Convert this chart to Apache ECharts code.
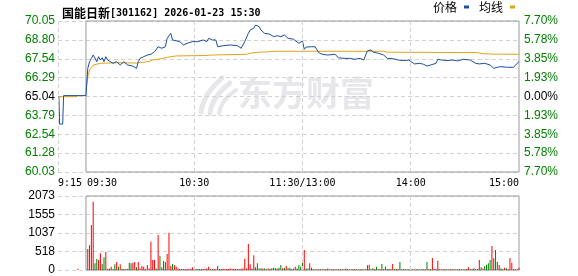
<!DOCTYPE html>
<html><head><meta charset="utf-8">
<script src="https://cdn.jsdelivr.net/npm/echarts@6/dist/echarts.min.js"></script>
<style>html,body{margin:0;padding:0;background:#fff}#c{width:578px;height:276px}</style>
</head><body><div id="c"></div>
<script>
// ---- data ----
const stockTitle = '国能日新';
const stockInfo = '[301162] 2026-01-23 15:30';
const prevClose = 65.04;
const leftTicks = ['60.03','61.28','62.54','63.79','65.04','66.29','67.54','68.80','70.05'];
const rightTicks = ['7.70%','5.78%','3.85%','1.93%','0.00%','1.93%','3.85%','5.78%','7.70%'];
const volTicks = ['0','518','1037','1555','2073'];
const timeTicks = ['9:15','09:30','10:30','11:30/13:00','14:00','15:00'];
const timeTickMin = [-15.5, 0, 60, 120, 180, 240];

// minutes relative to 09:30 (pre-market negative), price
const prePrice = [[-15,65.04],[-14.6,63.21],[-12.9,63.21],[-12.4,65.10]];
const prePriceAvg = [[-15,65.03],[-4.6,65.03]];
const pricePoints = [[0,65.10],[1,66.90],[2,67.35],[3,67.57],[4,67.79],[5,67.59],[6,67.35],[7,67.68],[8,67.46],[9,67.61],[10,67.35],[11,67.68],[12,67.46],[13,67.35],[15,67.24],[17,67.35],[19,67.13],[21,67.35],[23,67.13],[26,67.06],[28,66.91],[29,67.35],[30,67.57],[32,67.68],[34,67.79],[36,67.84],[37,67.91],[38,68.01],[40,68.34],[42,68.24],[44,68.34],[45,68.90],[47,69.23],[48,68.79],[49,68.90],[52,68.68],[54,68.46],[56,68.57],[59,68.68],[60,68.57],[62,68.68],[65,68.79],[67,68.68],[68,68.90],[70,68.79],[72,68.79],[73,68.34],[76,68.41],[80,68.46],[84,68.41],[86,68.24],[88,68.68],[90,69.23],[91,69.45],[93,69.57],[94,69.78],[96,69.67],[97,69.45],[99,69.23],[100,69.12],[102,69.17],[104,69.01],[106,69.07],[108,69.01],[110,69.12],[112,68.90],[115,68.84],[118,68.57],[120,68.72],[121,68.17],[122,68.32],[125,68.34],[127,68.34],[129,67.95],[131,67.84],[134,67.79],[138,67.84],[140,67.61],[143,67.57],[146,67.57],[149,67.51],[152,67.57],[154,67.46],[155,67.79],[156,68.06],[158,68.13],[159,67.99],[162,67.91],[165,67.79],[167,67.57],[168,67.51],[171,67.53],[173,67.46],[176,67.42],[179,67.46],[180,67.35],[182,67.20],[185,67.24],[187,67.18],[189,67.06],[191,67.13],[192,67.18],[194,67.24],[195,67.51],[197,67.46],[200,67.42],[203,67.46],[206,67.40],[209,67.51],[213,67.46],[216,67.24],[218,67.20],[221,67.24],[224,67.13],[226,66.91],[228,66.98],[230,67.02],[233,66.98],[237,66.98],[239,67.24],[240,67.35]];
const avgPoints = [[0,65.50],[1,66.35],[2,66.80],[4,67.13],[8,67.24],[17,67.28],[28,67.26],[30,67.30],[35,67.36],[37,67.46],[41,67.53],[45,67.64],[50,67.73],[67,67.76],[69,67.79],[89,67.84],[91,67.91],[95,67.97],[106,68.04],[165,68.04],[167,67.98],[217,67.95],[220,67.88],[226,67.85],[240,67.84]];

// volume per minute 0..240 (09:30..15:00), direction: r = up, g = down
const volumes = [0,588,700,1260,1913,187,308,280,467,168,355,504,30,40,93,30,159,224,93,159,
30,30,20,30,205,187,205,224,75,224,40,112,93,30,140,40,793,280,280,40,
980,392,75,252,224,448,1045,112,168,140,93,40,30,30,30,30,30,30,30,75,
30,30,30,30,30,30,30,40,93,30,30,30,30,112,30,30,30,30,30,30,
40,30,30,30,30,30,40,40,317,40,728,159,40,411,75,187,40,50,40,40,
30,40,30,50,60,50,40,60,140,50,60,112,50,60,30,40,93,40,140,93,
224,560,40,40,187,60,20,20,20,20,20,20,20,20,40,20,20,20,20,20,
20,20,20,20,40,20,20,20,20,30,20,20,20,20,20,20,130,150,30,50,
30,93,30,30,168,30,93,30,30,30,168,30,30,30,224,20,20,20,20,20,
20,20,20,20,20,20,20,20,20,224,30,30,336,30,30,261,20,20,20,20,
20,20,20,20,20,20,20,20,20,20,20,30,75,30,30,50,30,30,280,75,
40,112,150,187,280,672,327,560,224,140,50,30,60,50,30,336,205,30,20,20,60];
const volumeDir = 'rrrrrggrrggrrrrggrgr' + 'grrrggrrgrrrrrrrrrrg' + 'rggggrrrgrrrgrrrrrrr' + 'rgrrrrrrrgrrrgrrrrrr' +
'rrrrrgrrrrrrgrggggrg' + 'grrgggrggrgrggrrrggg' + 'grggrrrgrgrgrgrrgrgr' + 'grgrrgrgrgrgrgrgrrgg' +
'rggrgrrggrrgrgggrgrg' + 'rgrgrgrgrgrgrrrrgrrr' + 'grgrgrgrgrgrrgrgrgrg' + 'rggggrgggrggrgrrrgrrr';
const preVolume = [[-4.4, 36]];

// ---- build ----
const toPct = p => (p - prevClose) / prevClose * 100;
const RED = '#ff0000', GREEN = '#008000', BLUE = '#1a4f9f', GOLD = '#e0a416';
const GRIDC = '#d2d2d2', FRAME = '#999999';
const idx = v => Math.round((v + 7.7) / 1.925);
const numFont = 'Liberation Sans';
const monoFont = 'DejaVu Sans Mono';
const cjkFont = 'Noto Sans CJK SC';

const blueData = prePrice.concat(pricePoints).map(d => [d[0], toPct(d[1])]);
const avgPre = prePriceAvg.map(d => [d[0], toPct(d[1])]);
const avgMain = avgPoints.map(d => [d[0], toPct(d[1])]);
const volData = volumes.map((v, i) => ({
  value: [i, v], itemStyle: { color: volumeDir[i] === 'g' ? GREEN : RED }
})).concat(preVolume.map(d => ({ value: d, itemStyle: { color: RED } })));

const dashed = { color: GRIDC, type: [4, 3], width: 1 };
const chart = echarts.init(document.getElementById('c'), null, { renderer: 'canvas' });
chart.setOption({
  animation: false,
  backgroundColor: '#fff',
  title: {
    text: '{c|' + stockTitle + '}{a|' + stockInfo + '}',
    left: 57, top: 1,
    textStyle: { rich: {
      c: { fontFamily: cjkFont, fontSize: 12, color: '#000', lineHeight: 14 },
      a: { fontFamily: monoFont, fontSize: 10, color: '#000', lineHeight: 14 }
    } }
  },
  legend: {
    data: ['价格', '均线'], right: 63, top: 1, align: 'right', icon: 'rect',
    itemWidth: 5, itemHeight: 3, itemGap: 10, padding: 0,
    textStyle: { fontFamily: cjkFont, fontSize: 12, color: '#000', padding: [0, 2, 0, 0] }
  },
  graphic: [
    { type: 'text', left: 238, top: 76, z: 0, silent: true,
      style: { text: '东方财富', fontFamily: cjkFont, fontSize: 34, fontWeight: 'bold', fill: '#e7e7eb' } },
    { type: 'group', z: 0, silent: true, children: [
      { type: 'bezierCurve', shape: { x1: 201, y1: 112, x2: 222, y2: 78, cpx1: 203, cpy1: 95 },
        style: { stroke: '#e7e7eb', lineWidth: 5, fill: null, lineCap: 'round' } },
      { type: 'bezierCurve', shape: { x1: 210, y1: 113, x2: 230, y2: 83, cpx1: 212, cpy1: 97 },
        style: { stroke: '#e7e7eb', lineWidth: 5, fill: null, lineCap: 'round' } },
      { type: 'bezierCurve', shape: { x1: 219, y1: 113, x2: 236, y2: 90, cpx1: 221, cpy1: 100 },
        style: { stroke: '#e7e7eb', lineWidth: 4, fill: null, lineCap: 'round' } }
    ] }
  ],
  grid: [
    { left: 58, right: 59, top: 21, bottom: 104 },
    { left: 58, right: 59, top: 196, bottom: 6 }
  ],
  xAxis: [
    { type: 'value', gridIndex: 0, min: -15.5, max: 240,
      axisLine: { show: false }, axisTick: { show: false }, splitLine: { show: false },
      axisLabel: {
        customValues: timeTickMin, showMinLabel: true, showMaxLabel: true,
        alignMinLabel: 'left', alignMaxLabel: 'right', margin: 6,
        fontFamily: monoFont, fontSize: 10, color: '#000',
        formatter: v => {
          const i = timeTickMin.indexOf(v);
          const t = i >= 0 ? timeTicks[i] : '';
          return i === 1 ? '{p|' + t + '}' : t;
        },
        rich: { p: { fontFamily: monoFont, fontSize: 10, color: '#000', padding: [0, 0, 0, 32] } }
      } },
    { type: 'value', gridIndex: 1, min: -15.5, max: 240,
      axisLine: { show: false }, axisTick: { show: false }, splitLine: { show: false }, axisLabel: { show: false } }
  ],
  yAxis: [
    { type: 'value', gridIndex: 0, min: -7.7, max: 7.7, interval: 1.925, position: 'left',
      axisLine: { show: false }, axisTick: { show: false },
      splitLine: { show: true, lineStyle: dashed },
      axisLabel: { margin: 3, fontFamily: numFont, fontSize: 12,
        formatter: v => leftTicks[idx(v)],
        color: v => { const k = idx(v); return k > 4 ? RED : (k === 4 ? '#000' : GREEN); } } },
    { type: 'value', gridIndex: 0, min: -7.7, max: 7.7, interval: 1.925, position: 'right',
      axisLine: { show: false }, axisTick: { show: false }, splitLine: { show: false },
      axisLabel: { margin: 5, fontFamily: numFont, fontSize: 12,
        formatter: v => rightTicks[idx(v)],
        color: v => { const k = idx(v); return k > 4 ? RED : (k === 4 ? '#000' : GREEN); } } },
    { type: 'value', gridIndex: 1, min: 0, max: 2073, interval: 518.25, position: 'left',
      axisLine: { show: false }, axisTick: { show: false },
      splitLine: { show: true, lineStyle: dashed },
      axisLabel: { margin: 3, fontFamily: numFont, fontSize: 12, color: '#000',
        formatter: v => volTicks[Math.round(v / 518.25)] } }
  ],
  series: [
    { name: '价格', type: 'line', xAxisIndex: 0, yAxisIndex: 0, data: blueData,
      showSymbol: false, symbol: 'none', lineStyle: { color: BLUE, width: 1 }, itemStyle: { color: BLUE }, z: 4,
      markLine: { silent: true, symbol: 'none', label: { show: false }, lineStyle: dashed,
        data: [{ xAxis: -15.5 }, { xAxis: 60 }, { xAxis: 120 }, { xAxis: 180 }] },
      markArea: { silent: true, itemStyle: { color: 'rgba(0,0,0,0)', borderColor: FRAME, borderWidth: 1 },
        data: [[{ xAxis: 0, yAxis: -7.7 }, { xAxis: 240, yAxis: 7.7 }]] } },
    { name: '均线', type: 'line', xAxisIndex: 0, yAxisIndex: 0, data: avgMain,
      showSymbol: false, symbol: 'none', lineStyle: { color: GOLD, width: 1 }, itemStyle: { color: GOLD }, z: 3 },
    { name: '均线', type: 'line', xAxisIndex: 0, yAxisIndex: 0, data: avgPre,
      showSymbol: false, symbol: 'none', lineStyle: { color: GOLD, width: 1 }, itemStyle: { color: GOLD }, z: 3 },
    { name: 'vol', type: 'bar', xAxisIndex: 1, yAxisIndex: 2, data: volData, barWidth: 1, z: 3,
      markLine: { silent: true, symbol: 'none', label: { show: false }, lineStyle: dashed,
        data: [{ xAxis: 60 }, { xAxis: 120 }, { xAxis: 180 }] },
      markArea: { silent: true, itemStyle: { color: 'rgba(0,0,0,0)', borderColor: FRAME, borderWidth: 1 },
        data: [[{ xAxis: 0, yAxis: 0 }, { xAxis: 240, yAxis: 2073 }]] } }
  ]
});
</script></body></html>
